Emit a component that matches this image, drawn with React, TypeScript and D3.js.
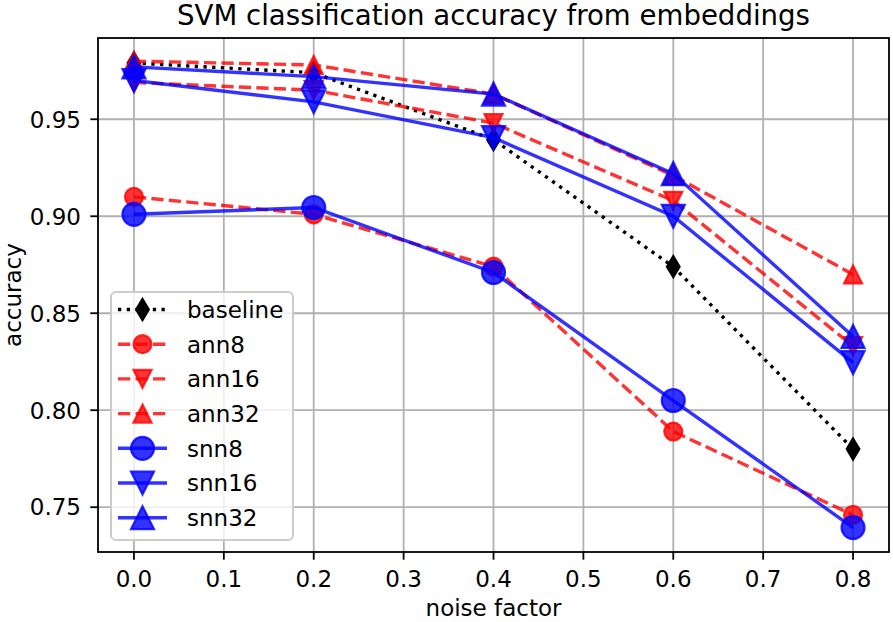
import React from "react";
import * as d3 from "d3";

const noise = [0.0, 0.2, 0.4, 0.6, 0.8];
const baseline = [0.979, 0.974, 0.9395, 0.874, 0.78];
const ann8 = [0.910, 0.901, 0.874, 0.789, 0.746];
const ann16 = [0.969, 0.965, 0.948, 0.908, 0.833];
const ann32 = [0.980, 0.978, 0.963, 0.921, 0.870];
const snn8 = [0.901, 0.9045, 0.871, 0.805, 0.7395];
const snn16 = [0.970, 0.959, 0.9405, 0.900, 0.8245];
const snn32 = [0.977, 0.972, 0.963, 0.922, 0.838];

const xTicks = [0.0, 0.1, 0.2, 0.3, 0.4, 0.5, 0.6, 0.7, 0.8];
const yTicks = [0.75, 0.8, 0.85, 0.9, 0.95];

type Marker = "circle" | "tri_up" | "tri_down" | "thin_diamond";
interface Series {
  name: string;
  values: number[];
  color: string;
  dash: string;
  marker: Marker;
  size: number;
  alpha: number;
}

const series: Series[] = [
  { name: "baseline", values: baseline, color: "black", dash: "dotted", marker: "thin_diamond", size: 21, alpha: 1 },
  { name: "ann8", values: ann8, color: "red", dash: "dashed", marker: "circle", size: 18, alpha: 0.8 },
  { name: "ann16", values: ann16, color: "red", dash: "dashed", marker: "tri_down", size: 18, alpha: 0.8 },
  { name: "ann32", values: ann32, color: "red", dash: "dashed", marker: "tri_up", size: 18, alpha: 0.8 },
  { name: "snn8", values: snn8, color: "blue", dash: "solid", marker: "circle", size: 23, alpha: 0.8 },
  { name: "snn16", values: snn16, color: "blue", dash: "solid", marker: "tri_down", size: 23, alpha: 0.8 },
  { name: "snn32", values: snn32, color: "blue", dash: "solid", marker: "tri_up", size: 23, alpha: 0.8 },
];

const W = 893;
const H = 622;
const M = { left: 98, right: 889, top: 38, bottom: 552 };
const FONT = "'DejaVu Sans', sans-serif";
const LW = 3.4;

function markerPath(m: Marker, s: number): string {
  const h = s / 2;
  const p = d3.path();
  if (m === "circle") {
    p.arc(0, 0, h, 0, Math.PI * 2);
    p.closePath();
  } else if (m === "tri_up") {
    p.moveTo(0, -h); p.lineTo(h, h); p.lineTo(-h, h); p.closePath();
  } else if (m === "tri_down") {
    p.moveTo(0, h); p.lineTo(-h, -h); p.lineTo(h, -h); p.closePath();
  } else {
    const w = h * 0.6;
    p.moveTo(0, -h); p.lineTo(w, 0); p.lineTo(0, h); p.lineTo(-w, 0); p.closePath();
  }
  return p.toString();
}

function dashArray(d: string): string | undefined {
  if (d === "dashed") return "12.2 5.3";
  if (d === "dotted") return "3.3 5.4";
  return undefined;
}

export default function App() {
  const x = d3.scaleLinear().domain([-0.04, 0.84]).range([M.left, M.right]);
  const y = d3.scaleLinear().domain([0.7269, 0.9919]).range([M.bottom, M.top]);
  const line = d3
    .line<[number, number]>()
    .x((d) => x(d[0]))
    .y((d) => y(d[1]));

  const legX = 111, legY = 292, legW = 182, legH = 248;
  const entryY0 = 309.5, entryStep = 34.7;
  const hx0 = 118, hx1 = 167, tx = 187;

  return (
    <svg width={W} height={H} style={{ position: "absolute", left: 0, top: 0, background: "white" }} fontFamily={FONT}>
      <rect x={0} y={0} width={W} height={H} fill="white" />
      {/* grid */}
      <g stroke="#b0b0b0" strokeWidth={1.8}>
        {xTicks.map((t) => (
          <line key={"gx" + t} x1={x(t)} x2={x(t)} y1={M.top} y2={M.bottom} />
        ))}
        {yTicks.map((t) => (
          <line key={"gy" + t} x1={M.left} x2={M.right} y1={y(t)} y2={y(t)} />
        ))}
      </g>
      {/* series */}
      <g>
        {series.map((s) => {
          const pts = noise.map((n, i) => [n, s.values[i]] as [number, number]);
          return (
            <g key={s.name}>
              <path
                d={line(pts) || ""}
                fill="none"
                stroke={s.color}
                strokeOpacity={s.alpha}
                strokeWidth={LW}
                strokeDasharray={dashArray(s.dash)}
              />
              {pts.map((p, i) => (
                <path
                  key={i}
                  d={markerPath(s.marker, s.size)}
                  transform={`translate(${x(p[0])},${y(p[1])})`}
                  fill={s.color}
                  fillOpacity={s.alpha}
                  stroke={s.color}
                  strokeOpacity={s.alpha}
                  strokeWidth={2.2}
                />
              ))}
            </g>
          );
        })}
      </g>
      {/* spines */}
      <rect x={M.left} y={M.top} width={M.right - M.left} height={M.bottom - M.top} fill="none" stroke="black" strokeWidth={1.8} />
      {/* x ticks */}
      <g>
        {xTicks.map((t) => (
          <g key={"xt" + t}>
            <line x1={x(t)} x2={x(t)} y1={M.bottom} y2={M.bottom + 7.7} stroke="black" strokeWidth={1.8} />
            <text x={x(t)} y={587} textAnchor="middle" fontSize={23} fill="black">
              {d3.format(".1f")(t)}
            </text>
          </g>
        ))}
      </g>
      {/* y ticks */}
      <g>
        {yTicks.map((t) => (
          <g key={"yt" + t}>
            <line x1={M.left - 7.7} x2={M.left} y1={y(t)} y2={y(t)} stroke="black" strokeWidth={1.8} />
            <text x={81} y={y(t) + 8.3} textAnchor="end" fontSize={23} fill="black">
              {d3.format(".2f")(t)}
            </text>
          </g>
        ))}
      </g>
      {/* labels */}
      <text x={(M.left + M.right) / 2} y={616} textAnchor="middle" fontSize={23} fill="black">
        noise factor
      </text>
      <text transform={`translate(21,${(M.top + M.bottom) / 2}) rotate(-90)`} textAnchor="middle" fontSize={23} fill="black">
        accuracy
      </text>
      <text x={(M.left + M.right) / 2} y={25} textAnchor="middle" fontSize={27.6} fill="black">
        SVM classification accuracy from embeddings
      </text>
      {/* legend */}
      <g>
        <rect x={legX} y={legY} width={legW} height={legH} rx={5} ry={5} fill="white" fillOpacity={0.8} stroke="#cccccc" strokeWidth={2} />
        {series.map((s, i) => {
          const ly = entryY0 + i * entryStep;
          return (
            <g key={"lg" + s.name}>
              <line x1={hx0} x2={hx1} y1={ly} y2={ly} stroke={s.color} strokeOpacity={s.alpha} strokeWidth={LW} strokeDasharray={dashArray(s.dash)} />
              <path
                d={markerPath(s.marker, s.size)}
                transform={`translate(${(hx0 + hx1) / 2},${ly})`}
                fill={s.color}
                fillOpacity={s.alpha}
                stroke={s.color}
                strokeOpacity={s.alpha}
                strokeWidth={2.2}
              />
              <text x={tx} y={ly + 8.3} fontSize={23} fill="black">
                {s.name}
              </text>
            </g>
          );
        })}
      </g>
    </svg>
  );
}
